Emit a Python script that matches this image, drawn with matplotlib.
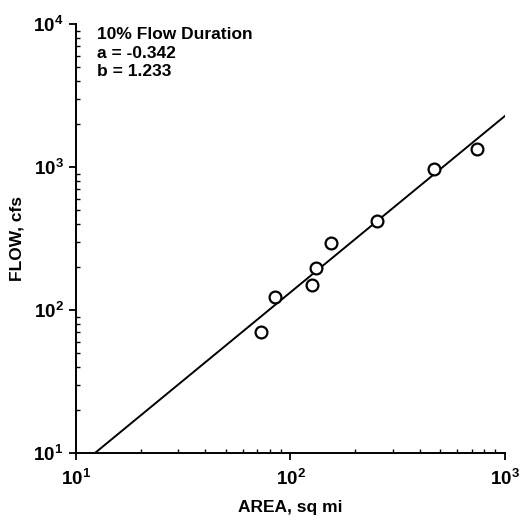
import numpy as np
import matplotlib
matplotlib.use("Agg")
import matplotlib.pyplot as plt
from matplotlib.ticker import LogLocator, FixedLocator, NullFormatter

plt.rcParams["font.family"] = ["Liberation Sans", "DejaVu Sans"]
plt.rcParams["mathtext.fontset"] = "custom"
plt.rcParams["mathtext.rm"] = "Liberation Sans:bold"
plt.rcParams["mathtext.bf"] = "Liberation Sans:bold"

area = [73, 85, 126, 131, 155, 253, 465, 742]
flow = [70, 124, 150, 197, 294, 418, 975, 1330]

# regression log Q = a + b log A
coef_a = -0.342
coef_b = 1.233
fit_area = np.array([10.0, 1000.0])
fit_flow = 10 ** (coef_a + coef_b * np.log10(fit_area))

x_decades = [1, 2, 3]
y_decades = [1, 2, 3, 4]

fig = plt.figure(figsize=(5.22, 5.21), dpi=100)
ax = fig.add_axes([0.1456, 0.1305, 0.8218, 0.8235])

ax.plot(fit_area, fit_flow, color="black", lw=1.4)
ax.plot(area, flow, "o", ms=8.5, mfc="white", mec="black", mew=1.6)

ax.set_xscale("log")
ax.set_yscale("log")
ax.set_xlim(10, 1000)
ax.set_ylim(10, 10000)

for s in ["top", "right"]:
    ax.spines[s].set_visible(False)
for s in ["left", "bottom"]:
    ax.spines[s].set_linewidth(1.4)

ax.xaxis.set_major_locator(FixedLocator([10.0 ** d for d in x_decades]))
ax.yaxis.set_major_locator(FixedLocator([10.0 ** d for d in y_decades]))
ax.set_xticklabels([r"$10^{%d}$" % d for d in x_decades])
ax.set_yticklabels([r"$10^{%d}$" % d for d in y_decades])
ax.xaxis.set_minor_locator(LogLocator(base=10, subs=np.arange(2, 10)))
ax.yaxis.set_minor_locator(LogLocator(base=10, subs=np.arange(2, 10)))
ax.xaxis.set_minor_formatter(NullFormatter())
ax.yaxis.set_minor_formatter(NullFormatter())

ax.tick_params(which="major", direction="out", length=5, width=1.3, labelsize=13.5)
ax.tick_params(axis="x", which="major", pad=6)
ax.tick_params(axis="y", which="major", pad=4)
ax.tick_params(which="minor", direction="in", length=3, width=1.0)

ax.set_xlabel("AREA, sq mi", fontsize=12.5, fontweight="bold", labelpad=8)
ax.set_ylabel("FLOW, cfs", fontsize=12.5, fontweight="bold", labelpad=6)

ax.text(0.05, 0.993, "10% Flow Duration\na = -0.342\nb = 1.233",
        transform=ax.transAxes, ha="left", va="top", fontsize=12.5,
        fontweight="bold", linespacing=1.3)

fig.savefig("out.png", dpi=100)
